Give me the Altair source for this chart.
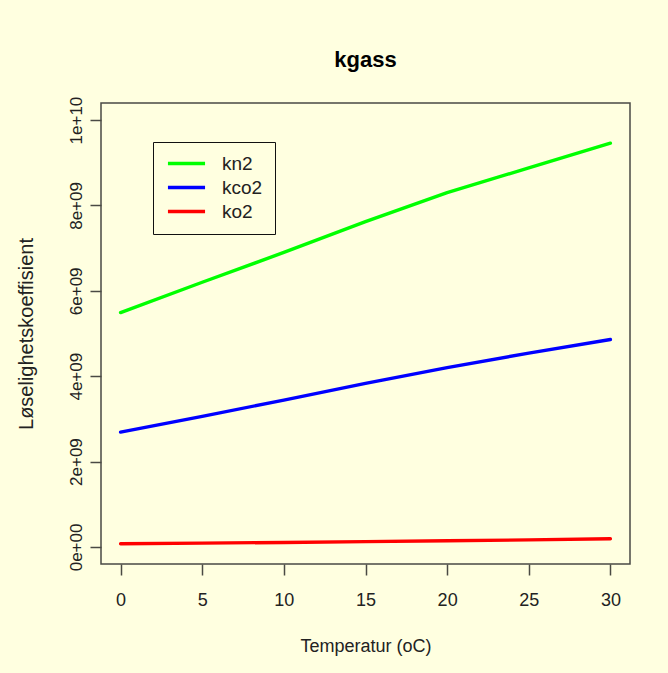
import altair as alt
import pandas as pd

# Løselighetskoeffisienter for gassene ved ulike temperaturer
temperatur = [0, 5, 10, 15, 20, 25, 30]
kn2 = [5.49e9, 6.20e9, 6.90e9, 7.62e9, 8.30e9, 8.88e9, 9.46e9]
kco2 = [2.69e9, 3.06e9, 3.44e9, 3.83e9, 4.20e9, 4.54e9, 4.86e9]
ko2 = [0.075e9, 0.090e9, 0.105e9, 0.125e9, 0.145e9, 0.165e9, 0.190e9]

serier = ["kn2", "kco2", "ko2"]
farger = ["#00FF00", "#0000FF", "#FF0000"]

x_ticks = [0, 5, 10, 15, 20, 25, 30]
y_ticks = [0, 2e9, 4e9, 6e9, 8e9, 1e10]
y_tick_labels = ["0e+00", "2e+09", "4e+09", "6e+09", "8e+09", "1e+10"]

rows = []
for navn, verdier in zip(serier, [kn2, kco2, ko2]):
    for t, v in zip(temperatur, verdier):
        rows.append({"Temperatur": t, "k": v, "gass": navn})
df = pd.DataFrame(rows)

# R-style scientific tick labels
label_expr = "''"
for v, lab in reversed(list(zip(y_ticks, y_tick_labels))):
    label_expr = f"datum.value == {int(v)} ? '{lab}' : ({label_expr})"

FONT = "Liberation Sans"
INK = "#222222"
FRAME = "#4a4a44"
BG = "#FFFFE0"

chart = (
    alt.Chart(df)
    .mark_line(strokeWidth=3.4, strokeCap="round", strokeJoin="round")
    .encode(
        x=alt.X(
            "Temperatur:Q",
            scale=alt.Scale(domain=[-1.2, 31.2], nice=False, zero=False),
            axis=alt.Axis(
                title="Temperatur (oC)",
                values=x_ticks,
                grid=False,
                domain=False,
                tickSize=11,
                tickWidth=1.5,
                tickColor=FRAME,
                labelFont=FONT,
                labelFontSize=18,
                labelColor=INK,
                labelBaseline="alphabetic",
                labelPadding=30,
                titleFont=FONT,
                titleFontSize=18,
                titleFontWeight="normal",
                titleColor=INK,
                titleBaseline="alphabetic",
                titleY=87,
            ),
        ),
        y=alt.Y(
            "k:Q",
            scale=alt.Scale(domain=[-0.4e9, 10.4e9], nice=False, zero=False),
            axis=alt.Axis(
                title="Løselighetskoeffisient",
                values=y_ticks,
                labelExpr=label_expr,
                grid=False,
                domain=False,
                tickSize=11,
                tickWidth=1.5,
                tickColor=FRAME,
                labelFont=FONT,
                labelFontSize=17,
                labelColor=INK,
                labelAngle=270,
                labelAlign="center",
                labelBaseline="alphabetic",
                labelPadding=9,
                titleFont=FONT,
                titleFontSize=20,
                titleFontWeight="normal",
                titleColor=INK,
                titleAngle=270,
                titleBaseline="alphabetic",
                titleX=-69,
            ),
        ),
        color=alt.Color(
            "gass:N",
            scale=alt.Scale(domain=serier, range=farger),
            legend=alt.Legend(
                title=None,
                orient="none",
                legendX=52,
                legendY=39,
                # flat custom path keeps the rows tight while the stroke stays 37px wide
                symbolType="M-4,0H4",
                symbolSize=86,
                symbolStrokeWidth=3.4,
                symbolFillColor="transparent",
                symbolOffset=12,
                labelFont=FONT,
                labelFontSize=19,
                labelColor=INK,
                labelOffset=26,
                rowPadding=4,
                padding=12,
                strokeColor="#111111",
                fillColor=BG,
            ),
        ),
        order=alt.Order("Temperatur:Q"),
    )
    .properties(
        width=529,
        height=461,
        title=alt.TitleParams(
            "kgass",
            font=FONT,
            fontSize=22,
            fontWeight="bold",
            color="#000000",
            anchor="middle",
            baseline="alphabetic",
            offset=7,
        ),
        autosize=alt.AutoSizeParams(type="none"),
        padding={"left": 101, "top": 103, "right": 38, "bottom": 109},
        background=BG,
    )
    .configure_view(stroke=FRAME, strokeWidth=1.5)
)

chart.save("out.html", embed_options={"renderer": "svg", "actions": False})
